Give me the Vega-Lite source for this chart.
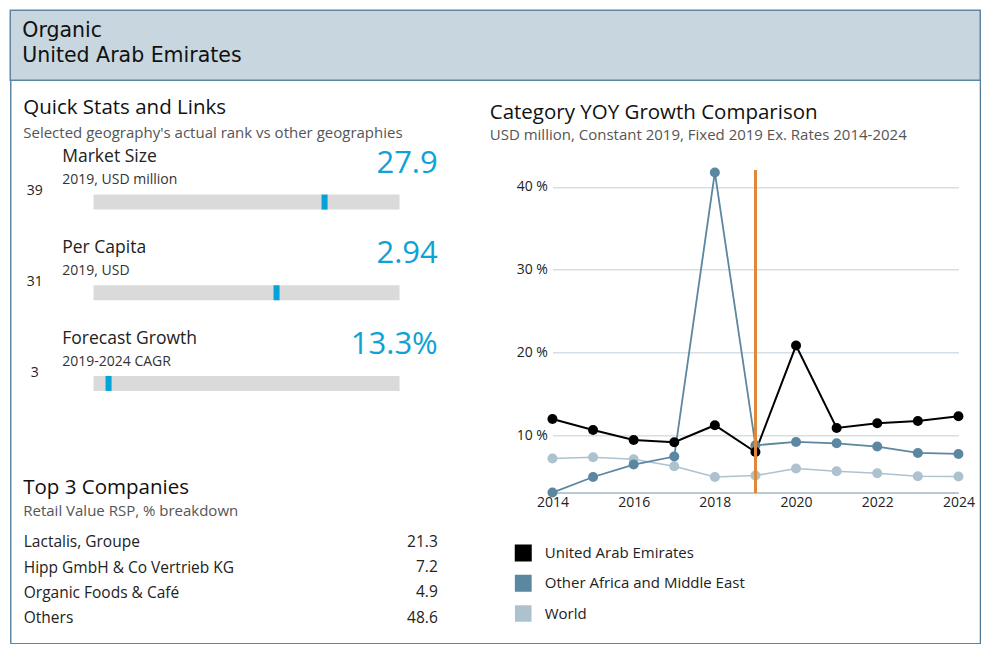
{
  "$schema": "https://vega.github.io/schema/vega-lite/v6.json",
  "background": "white",
  "padding": {"left": 9.25, "top": 9.25, "right": 0, "bottom": 0},
  "config": {
    "font": "Open Sans",
    "view": {"stroke": null},
    "title": {"font": "Open Sans", "fontWeight": "normal", "color": "#111", "subtitleFont": "Open Sans", "subtitleColor": "#555"},
    "axis": {"labelFont": "Open Sans", "titleFont": "Open Sans"},
    "legend": {"labelFont": "Open Sans"},
    "text": {"font": "Open Sans"}
  },
  "bounds": "flush",
  "spacing": 60,
  "resolve": {"scale": {"color": "independent", "size": "independent", "strokeWidth": "independent"}, "legend": {"color": "independent", "size": "independent", "strokeWidth": "independent"}},
  "vconcat": [
    {
      "width": 970,
      "height": 70,
      "view": {"fill": "#c8d6df", "stroke": "#5b87a5", "strokeWidth": 1.5},
      "layer": [
        {
          "data": {"values": [{"category": "Organic", "lines": ["Organic", "United Arab Emirates"]}]},
          "mark": {"type": "text", "align": "left", "baseline": "alphabetic", "font": "DejaVu Sans", "fontSize": 20.5, "lineHeight": 24.5, "color": "#111"},
          "encoding": {
            "y": {"field": "category", "type": "nominal", "scale": {"range": [0, 54.2], "paddingInner": 0, "paddingOuter": 0}, "axis": null},
            "x": {"value": 12},
            "text": {"field": "lines"}
          }
        },
        {
          "data": {"values": [{"edge": "left and bottom"}]},
          "mark": {"type": "point", "opacity": 0, "size": 0},
          "encoding": {
            "x": {"datum": 0, "type": "quantitative", "scale": {"domain": [0, 1], "range": [0, 970]},
                  "axis": {"orient": "bottom", "offset": 563, "domain": true, "domainColor": "#5b87a5", "domainWidth": 1.5, "labels": false, "ticks": false, "grid": false, "title": null}},
            "y": {"datum": 0, "type": "quantitative", "scale": {"domain": [0, 1], "range": [633, 70]},
                  "axis": {"orient": "left", "offset": 0, "domain": true, "domainColor": "#5b87a5", "domainWidth": 1.5, "labels": false, "ticks": false, "grid": false, "title": null}}
          }
        },
        {
          "data": {"values": [{"edge": "right"}]},
          "mark": {"type": "point", "opacity": 0, "size": 0},
          "encoding": {
            "y": {"datum": 0, "type": "quantitative", "scale": {"domain": [0, 1], "range": [633, 70]},
                  "axis": {"orient": "right", "offset": 0, "domain": true, "domainColor": "#4f7a98", "domainWidth": 2, "labels": false, "ticks": false, "grid": false, "title": null}}
          }
        }
      ],
      "resolve": {"scale": {"x": "independent", "y": "independent"}, "axis": {"x": "independent", "y": "independent"}}
    },
    {
      "bounds": "flush",
      "spacing": 114.2,
      "resolve": {"scale": {"color": "independent", "size": "independent", "strokeWidth": "independent"}, "legend": {"color": "independent", "size": "independent", "strokeWidth": "independent"}},
      "hconcat": [
        {
          "width": 427.5,
          "height": 490,
          "title": {"text": "Quick Stats and Links", "subtitle": "Selected geography's actual rank vs other geographies", "anchor": "start", "frame": "group", "dx": 13, "fontSize": 20.5, "subtitleFontSize": 15, "subtitlePadding": 7.5, "offset": -0.5},
          "layer": [
            {
              "data": {"values": [
                {"metric": "Market Size", "note": "2019, USD million", "display": "27.9", "rank": 39},
                {"metric": "Per Capita", "note": "2019, USD", "display": "2.94", "rank": 31},
                {"metric": "Forecast Growth", "note": "2019-2024 CAGR", "display": "13.3%", "rank": 3}
              ]},
              "encoding": {
                "y": {"field": "metric", "type": "nominal", "sort": null, "scale": {"range": [0, 272], "paddingInner": 0, "paddingOuter": 0}, "axis": null}
              },
              "layer": [
                {
                  "mark": {"type": "bar", "color": "#dadada", "height": 15, "yOffset": 16.5},
                  "encoding": {
                    "x": {"datum": 0.5, "type": "quantitative", "scale": {"domain": [-13.383, 57.867], "nice": false, "zero": false}, "axis": null},
                    "x2": {"datum": 51.5}
                  }
                },
                {
                  "mark": {"type": "tick", "color": "#03a2d9", "opacity": 1, "thickness": 6, "yOffset": 16.5},
                  "encoding": {
                    "x": {"field": "rank", "type": "quantitative"},
                    "size": {"value": 15}
                  }
                },
                {
                  "mark": {"type": "text", "align": "left", "baseline": "middle", "fontSize": 17.5, "color": "#222", "yOffset": -28.3},
                  "encoding": {"x": {"datum": -4.717, "type": "quantitative"}, "text": {"field": "metric"}}
                },
                {
                  "mark": {"type": "text", "align": "left", "baseline": "middle", "fontSize": 14, "color": "#333", "yOffset": -5.3},
                  "encoding": {"x": {"datum": -4.717, "type": "quantitative"}, "text": {"field": "note"}}
                },
                {
                  "mark": {"type": "text", "align": "center", "baseline": "middle", "fontSize": 14, "color": "#222", "yOffset": 5.7},
                  "encoding": {"x": {"datum": -9.3, "type": "quantitative"}, "text": {"field": "rank", "type": "quantitative"}}
                },
                {
                  "mark": {"type": "text", "align": "right", "baseline": "middle", "fontSize": 31, "color": "#0ea2d6", "yOffset": -21.9},
                  "encoding": {"x": {"value": "width"}, "text": {"field": "display"}}
                }
              ]
            },
            {
              "data": {"values": [
                {"heading": "Top 3 Companies"},
                {"heading": "Retail Value RSP, % breakdown"}
              ]},
              "mark": {"type": "text", "align": "left", "baseline": "middle"},
              "encoding": {
                "y": {"field": "heading", "type": "nominal", "sort": null, "scale": {"type": "point", "range": [347.3, 371], "padding": 0}, "axis": null},
                "x": {"value": 13},
                "text": {"field": "heading"},
                "size": {"field": "heading", "type": "ordinal", "scale": {"domain": ["Top 3 Companies", "Retail Value RSP, % breakdown"], "range": [20.5, 15]}, "legend": null},
                "color": {"field": "heading", "type": "nominal", "scale": {"domain": ["Top 3 Companies", "Retail Value RSP, % breakdown"], "range": ["#111111", "#555555"]}, "legend": null}
              }
            },
            {
              "data": {"values": [
                {"company": "Lactalis, Groupe", "share": 21.3},
                {"company": "Hipp GmbH & Co Vertrieb KG", "share": 7.2},
                {"company": "Organic Foods & Café", "share": 4.9},
                {"company": "Others", "share": 48.6}
              ]},
              "mark": {"type": "text", "align": "right", "baseline": "middle", "fontSize": 15.5, "color": "#222"},
              "encoding": {
                "y": {"field": "company", "type": "nominal", "sort": null, "scale": {"range": [389.1, 489.9], "paddingInner": 0, "paddingOuter": 0},
                      "axis": {"orient": "left", "title": null, "domain": false, "ticks": false, "tickSize": 0, "labelAlign": "left", "labelPadding": -13, "labelFontSize": 15.5, "labelColor": "#222", "labelBaseline": "middle", "labelLimit": 400}},
                "x": {"value": "width"},
                "text": {"field": "share", "type": "quantitative", "format": ".1f"}
              }
            }
          ],
          "resolve": {"scale": {"y": "independent", "color": "independent", "size": "independent"}, "axis": {"y": "independent"}}
        },
        {
          "width": 406,
          "height": 352.3,
          "title": {"text": "Category YOY Growth Comparison", "subtitle": "USD million, Constant 2019, Fixed 2019 Ex. Rates 2014-2024", "anchor": "start", "frame": "group", "dx": -62.7, "fontSize": 20.5, "subtitleFontSize": 15, "subtitlePadding": 4.5, "offset": -3},
          "data": {"values": [
            {"year": 2014, "series": "World", "growth": 7.19},
            {"year": 2015, "series": "World", "growth": 7.34},
            {"year": 2016, "series": "World", "growth": 7.10},
            {"year": 2017, "series": "World", "growth": 6.26},
            {"year": 2018, "series": "World", "growth": 4.96},
            {"year": 2019, "series": "World", "growth": 5.13},
            {"year": 2020, "series": "World", "growth": 5.98},
            {"year": 2021, "series": "World", "growth": 5.65},
            {"year": 2022, "series": "World", "growth": 5.41},
            {"year": 2023, "series": "World", "growth": 5.05},
            {"year": 2024, "series": "World", "growth": 5.01},
            {"year": 2014, "series": "Other Africa and Middle East", "growth": 3.08},
            {"year": 2015, "series": "Other Africa and Middle East", "growth": 4.96},
            {"year": 2016, "series": "Other Africa and Middle East", "growth": 6.46},
            {"year": 2017, "series": "Other Africa and Middle East", "growth": 7.43},
            {"year": 2018, "series": "Other Africa and Middle East", "growth": 41.73},
            {"year": 2019, "series": "Other Africa and Middle East", "growth": 8.79},
            {"year": 2020, "series": "Other Africa and Middle East", "growth": 9.19},
            {"year": 2021, "series": "Other Africa and Middle East", "growth": 9.03},
            {"year": 2022, "series": "Other Africa and Middle East", "growth": 8.63},
            {"year": 2023, "series": "Other Africa and Middle East", "growth": 7.86},
            {"year": 2024, "series": "Other Africa and Middle East", "growth": 7.74},
            {"year": 2014, "series": "United Arab Emirates", "growth": 11.97},
            {"year": 2015, "series": "United Arab Emirates", "growth": 10.64},
            {"year": 2016, "series": "United Arab Emirates", "growth": 9.43},
            {"year": 2017, "series": "United Arab Emirates", "growth": 9.15},
            {"year": 2018, "series": "United Arab Emirates", "growth": 11.21},
            {"year": 2019, "series": "United Arab Emirates", "growth": 7.98},
            {"year": 2020, "series": "United Arab Emirates", "growth": 20.83},
            {"year": 2021, "series": "United Arab Emirates", "growth": 10.88},
            {"year": 2022, "series": "United Arab Emirates", "growth": 11.45},
            {"year": 2023, "series": "United Arab Emirates", "growth": 11.73},
            {"year": 2024, "series": "United Arab Emirates", "growth": 12.29}
          ]},
          "encoding": {
            "x": {"field": "year", "type": "quantitative", "scale": {"domain": [2014, 2024], "nice": false, "zero": false},
                  "axis": {"title": null, "values": [2014, 2016, 2018, 2020, 2022, 2024], "format": "d", "grid": false, "ticks": false, "domain": true, "domainColor": "#b9c9d4", "domainWidth": 2, "labelFlush": false, "labelFontSize": 14, "labelColor": "#222", "labelPadding": 3}},
            "y": {"field": "growth", "type": "quantitative", "scale": {"domain": [3.08, 45.62], "nice": false, "zero": false},
                  "axis": {"title": null, "values": [10, 20, 30, 40], "labelExpr": "datum.value + ' %'", "grid": true, "gridColor": "#d5dfe5", "gridWidth": 1.5, "domain": false, "ticks": false, "labelFontSize": 14, "labelColor": "#222", "labelPadding": 5}},
            "color": {"field": "series", "type": "nominal", "scale": {"domain": ["United Arab Emirates", "Other Africa and Middle East", "World"], "range": ["#000000", "#5b87a1", "#adc2cf"]},
                      "legend": {"title": null, "orient": "none", "legendX": -37.7, "legendY": 404.2, "direction": "vertical", "symbolType": "square", "symbolSize": 225, "symbolStrokeWidth": 0, "symbolOpacity": 1, "labelFontSize": 15, "labelColor": "#222", "labelLimit": 320, "rowPadding": 7.3, "labelOffset": 13, "padding": 0}}
          },
          "layer": [
            {
              "mark": {"type": "line"},
              "encoding": {
                "strokeWidth": {"field": "series", "type": "nominal", "scale": {"domain": ["United Arab Emirates", "Other Africa and Middle East", "World"], "range": [2, 1.6, 1.6]}, "legend": null}
              }
            },
            {
              "mark": {"type": "point", "filled": true, "size": 100, "opacity": 1}
            },
            {
              "mark": {"type": "rule", "color": "#e0883a", "strokeWidth": 2},
              "encoding": {"x": {"datum": 2019, "type": "quantitative"}, "y": {"datum": 3.08, "type": "quantitative"}, "y2": {"datum": 42.0}, "color": null}
            }
          ]
        }
      ]
    }
  ]
}
